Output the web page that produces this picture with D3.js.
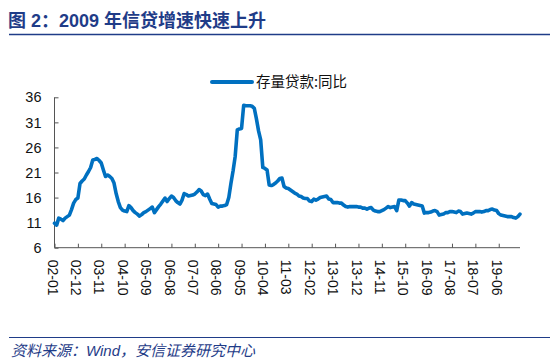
<!DOCTYPE html>
<html>
<head>
<meta charset="utf-8">
<script src="https://cdn.jsdelivr.net/npm/d3@7"></script>
<style>
  body { margin: 0; background: #fff; }
  svg { display: block; }
</style>
</head>
<body>
<div id="graf"></div>
<script>
const title = '图 2：2009 年信贷增速快速上升'
const source = '资料来源：Wind，安信证券研究中心'
const seriesName = '存量贷款:同比'
const startMonth = '2002-01'

// 存量贷款同比 (%), monthly 2002-01 .. 2020-04
const v2002 = [10.9, 10.5, 11.9, 11.7, 11.4, 11.9, 12.2, 12.5, 13.6, 14.9, 15.6, 15.9]
const v2003 = [18.8, 19.3, 19.7, 20.5, 21.2, 22.0, 23.5, 23.6, 23.8, 23.4, 22.9, 21.5]
const v2004 = [20.2, 20.5, 20.2, 19.8, 18.9, 16.8, 15.2, 14.0, 13.5, 13.3, 13.2, 14.4]
const v2005 = [14.0, 13.4, 13.0, 12.7, 12.3, 12.6, 13.0, 13.2, 13.5, 13.8, 14.1, 13.0]
const v2006 = [13.6, 14.2, 14.7, 15.3, 15.9, 15.2, 15.8, 16.3, 16.0, 15.4, 15.0, 14.7]
const v2007 = [15.5, 16.8, 16.6, 16.3, 16.4, 16.5, 16.7, 17.1, 17.6, 17.3, 16.6, 16.4]
const v2008 = [16.7, 15.7, 14.8, 14.7, 14.6, 14.1, 14.3, 14.3, 14.4, 14.6, 16.0, 18.8]
const v2009 = [21.3, 24.2, 29.5, 29.7, 29.8, 34.4, 34.3, 34.3, 34.3, 34.2, 33.8, 31.7]
const v2010 = [29.3, 27.5, 22.0, 21.8, 21.5, 18.5, 18.4, 18.6, 18.9, 19.3, 19.8, 19.9]
const v2011 = [18.2, 17.9, 17.8, 17.5, 17.2, 16.9, 16.7, 16.3, 16.2, 15.9, 15.8, 15.8]
const v2012 = [15.3, 15.2, 15.7, 15.5, 15.7, 16.0, 16.1, 16.2, 16.3, 15.7, 15.6, 15.0]
const v2013 = [15.0, 15.0, 14.9, 14.9, 14.5, 14.2, 14.1, 14.2, 14.2, 14.2, 14.2, 14.1]
const v2014 = [14.1, 13.9, 13.9, 13.7, 13.9, 14.0, 13.5, 13.3, 13.2, 13.2, 13.4, 13.6]
const v2015 = [13.9, 14.2, 14.0, 14.1, 14.2, 13.4, 15.5, 15.5, 15.4, 15.4, 14.9, 14.3]
const v2016 = [15.0, 14.7, 14.6, 14.5, 14.4, 14.3, 12.9, 13.0, 13.0, 13.1, 13.3, 13.4]
const v2017 = [13.2, 12.5, 12.6, 12.7, 13.0, 13.0, 13.2, 13.2, 13.1, 13.0, 13.3, 13.2]
const v2018 = [12.7, 12.8, 12.9, 12.8, 12.7, 12.9, 13.2, 13.2, 13.2, 13.1, 13.2, 13.4]
const v2019 = [13.4, 13.6, 13.7, 13.5, 13.4, 12.8, 12.5, 12.4, 12.3, 12.2, 12.2, 12.2]
const v2020 = [12.0, 11.9, 12.2, 12.7]

const yTicks = [6, 11, 16, 21, 26, 31, 36]
const xTickLabels = ['02-01', '02-12', '03-11', '04-10', '05-09', '06-08', '07-07',
  '08-06', '09-05', '10-04', '11-03', '12-02', '13-01', '13-12', '14-11',
  '15-10', '16-09', '17-08', '18-07', '19-06']

const values = [].concat(v2002, v2003, v2004, v2005, v2006, v2007, v2008, v2009,
  v2010, v2011, v2012, v2013, v2014, v2015, v2016, v2017, v2018, v2019, v2020)

const parser = d3.timeParse('%Y-%m')
const fmt = d3.timeFormat('%y-%m')
const t0 = parser(startMonth)
const data = values.map((v, i) => ({ i: i, date: d3.timeMonth.offset(t0, i), value: v }))
const tickIdx = data.filter((d) => xTickLabels.includes(fmt(d.date))).map((d) => d.i)

const anchoTotal = 550
const altoTotal = 364
const navy = '#1f3c88'
const blue = '#0070c0'

const svg = d3.select('#graf')
  .append('svg')
  .attr('width', anchoTotal)
  .attr('height', altoTotal)
  .style('font-family', '"Liberation Sans", Arial, "Noto Sans CJK SC", sans-serif')

// title + rule
svg.append('text')
  .attr('x', 8)
  .attr('y', 27)
  .attr('fill', navy)
  .attr('font-size', 18)
  .attr('font-weight', 'bold')
  .style('font-family', '"Liberation Sans", "Noto Sans CJK SC", sans-serif')
  .text(title)
svg.append('line')
  .attr('x1', 9).attr('x2', 550)
  .attr('y1', 34.5).attr('y2', 34.5)
  .attr('stroke', navy)
  .attr('stroke-width', 1.6)

const x = d3.scaleLinear().domain([0, values.length - 1]).range([54.5, 520])
const y = d3.scaleLinear().domain([6, 36]).range([247.7, 97.3])

const g = svg.append('g')

const yAxis = g.append('g')
  .attr('transform', `translate(${x(0)}, 0)`)
  .call(d3.axisRight(y).tickValues(yTicks).tickSize(4).tickFormat(d3.format('d')))
yAxis.select('.domain').attr('stroke', '#555').attr('d', `M0,${y(6)}V${y(36)}`)
yAxis.selectAll('.tick line').attr('stroke', '#555')
yAxis.selectAll('.tick text')
  .attr('x', -13)
  .attr('text-anchor', 'end')
  .attr('fill', '#111')
  .attr('font-size', 14.5)

const xAxis = g.append('g')
  .attr('transform', `translate(0, ${y(6)})`)
  .call(d3.axisTop(x).tickValues(tickIdx).tickSize(4).tickFormat(''))
xAxis.select('.domain').attr('stroke', '#555').attr('d', `M${x(0)},0H${x(values.length - 1)}`)
xAxis.selectAll('.tick line').attr('stroke', '#555')

g.selectAll('.xlab')
  .data(tickIdx)
  .join('text')
  .attr('class', 'xlab')
  .attr('transform', (d) => `translate(${x(d) - 2}, ${y(6) + 12}) rotate(90)`)
  .attr('dy', '0.35em')
  .attr('fill', '#111')
  .attr('font-size', 14)
  .text((d) => fmt(data[d].date))

const generadorLinea = d3.line()
  .x((d) => x(d.i))
  .y((d) => y(d.value))

g.append('path')
  .datum(data)
  .attr('fill', 'none')
  .attr('stroke', blue)
  .attr('stroke-width', 3.6)
  .attr('stroke-linejoin', 'round')
  .attr('stroke-linecap', 'round')
  .attr('d', generadorLinea)

// legend
const leg = svg.append('g').attr('transform', 'translate(212, 82)')
leg.append('line')
  .attr('x1', 0).attr('x2', 40)
  .attr('stroke', blue)
  .attr('stroke-width', 4)
  .attr('stroke-linecap', 'round')
leg.append('text')
  .attr('x', 44)
  .attr('dy', '0.36em')
  .attr('fill', '#111')
  .attr('font-size', 14.5)
  .style('font-family', '"Noto Sans CJK SC", sans-serif')
  .text(seriesName)

// source + rule
svg.append('line')
  .attr('x1', 9).attr('x2', 550)
  .attr('y1', 337.5).attr('y2', 337.5)
  .attr('stroke', navy)
  .attr('stroke-width', 1.2)
svg.append('text')
  .attr('x', 11)
  .attr('y', 356)
  .attr('fill', navy)
  .attr('font-size', 15)
  .attr('font-style', 'italic')
  .style('font-family', '"Liberation Sans", "Noto Sans CJK SC", sans-serif')
  .text(source)
</script>
</body>
</html>
